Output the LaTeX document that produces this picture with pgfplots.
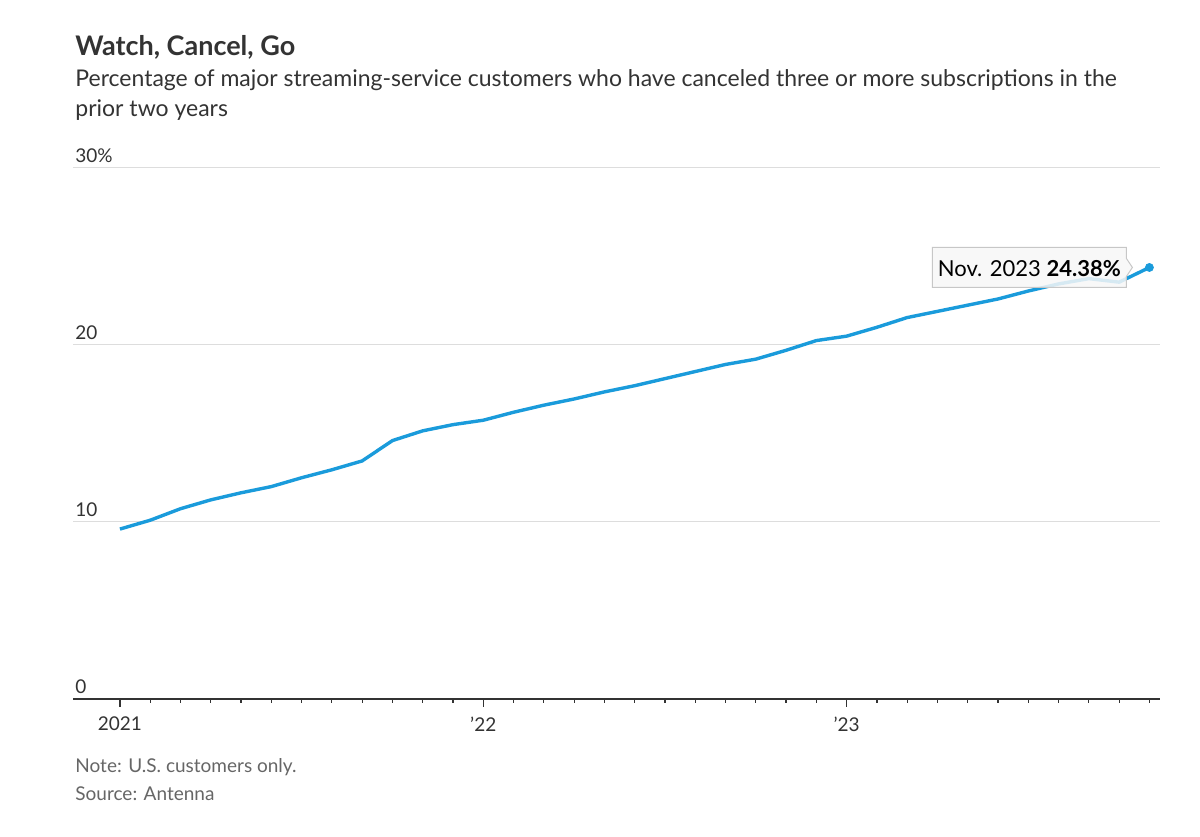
\documentclass[border=0pt]{standalone}
\usepackage{fontspec}
\setmainfont{Lato}
\usepackage{pgfplots}
\pgfplotsset{compat=1.18}
\definecolor{wsjblue}{HTML}{1A9BDB}
\definecolor{txt}{HTML}{333333}
\definecolor{gridc}{HTML}{DDDDDD}
\definecolor{notec}{HTML}{666666}
\pgfplotstableread{
m v
0 9.6
1 10.1
2 10.75
3 11.25
4 11.65
5 12.0
6 12.5
7 12.95
8 13.45
9 14.6
10 15.15
11 15.5
12 15.75
13 16.2
14 16.6
15 16.95
16 17.35
17 17.7
18 18.1
19 18.5
20 18.9
21 19.2
22 19.7
23 20.25
24 20.5
25 21.0
26 21.55
27 21.9
28 22.25
29 22.6
30 23.05
31 23.45
32 23.75
33 23.55
34 24.38
}\datatable
\begin{document}
\begin{tikzpicture}[x=1pt,y=1pt]
\useasboundingbox (0,0) rectangle (600,418);
\node[anchor=base west, inner sep=0, text=txt, font=\bfseries\fontsize{13.5}{16}\selectfont] at (37.5,390) {Watch, Cancel, Go};
\node[anchor=base west, inner sep=0, text=txt, font=\fontsize{11.5}{13}\selectfont] at (37.5,374.5) {Percentage of major streaming-service customers who have canceled three or more subscriptions in the};
\node[anchor=base west, inner sep=0, text=txt, font=\fontsize{11.5}{13}\selectfont] at (37.5,359.5) {prior two years};
\node[anchor=base west, inner sep=0, text=notec, font=\fontsize{9.5}{11}\selectfont] at (37.5,32) {Note: U.S. customers only.};
\node[anchor=base west, inner sep=0, text=notec, font=\fontsize{9.5}{11}\selectfont] at (37.5,18) {Source: Antenna};
\begin{axis}[
  at={(36.5pt,68.5pt)}, anchor=south west,
  scale only axis, width=543.5pt, height=265.5pt,
  xmin=-1.55, xmax=34.35, ymin=0, ymax=30,
  axis x line*=bottom, axis y line*=left,
  y axis line style={draw=none},
  x axis line style={draw=txt, line width=0.9pt},
  ytick={0,10,20,30}, yticklabels={}, ytick style={draw=none},
  ymajorgrids, major grid style={draw=gridc, line width=0.5pt},
  xtick={0,12,24}, xticklabels={2021,’22,’23},
  minor xtick={1,...,11,13,14,...,23,25,26,...,34},
  tick align=outside, major tick length=4pt, minor tick length=2pt,
  xtick style={draw=txt, line width=0.6pt},
  xticklabel style={font=\fontsize{9.5}{11}\selectfont, text=txt, yshift=-1.5pt},
  clip=false,
]
\addplot[wsjblue, line width=1.7pt, line join=round] table[x=m, y=v] {\datatable};
\foreach \v/\l in {0/0,10/10,20/20,30/30\%} {
  \edef\tmp{\noexpand\node[anchor=base west, inner sep=0, text=txt, font=\noexpand\fontsize{9.5}{11}\noexpand\selectfont] at (axis cs:-1.55,\v) [xshift=1pt, yshift=2.5pt] {\l};}
  \tmp
}
\coordinate (P) at (axis cs:34,24.38);
\draw[draw=black!22, fill=white!97!black, fill opacity=0.85, line width=0.5pt]
  ([shift={(-11.5pt,10pt)}]P) -- ([shift={(-11.5pt,4.5pt)}]P) -- ([shift={(-8.5pt,0pt)}]P) -- ([shift={(-11.5pt,-4.5pt)}]P) -- ([shift={(-11.5pt,-10pt)}]P) -- ([shift={(-108.5pt,-10pt)}]P) -- ([shift={(-108.5pt,10pt)}]P) -- cycle;
\node[anchor=center, inner sep=0, text=black, font=\fontsize{11}{13}\selectfont] at ([shift={(-60pt,-0.5pt)}]P) {Nov. 2023 \textbf{24.38\%}};
\addplot[only marks, mark=*, mark size=2pt, color=wsjblue] coordinates {(34,24.38)};
\end{axis}
\end{tikzpicture}
\end{document}
